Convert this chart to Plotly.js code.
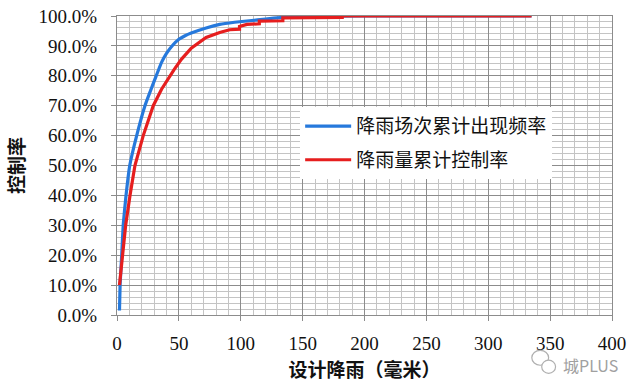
<!DOCTYPE html>
<html>
<head>
<meta charset="utf-8">
<script src="https://cdn.plot.ly/plotly-3.0.1.min.js"></script>
<style>html,body{margin:0;padding:0;background:#fff;}#chart{width:640px;height:388px;}</style>
</head>
<body>
<div id="chart"></div>
<script>
// 降雨场次累计出现频率 (blue)
const blueName = "降雨场次累计出现频率";
const blueX = [2, 2.5, 3.8, 5, 7.3, 10.3, 15.9, 22.6, 31.7, 36, 40, 45, 50, 55, 60, 72, 83, 95, 107, 120, 140, 200, 335];
const blueY = [1.5, 10, 20, 30, 40, 50, 60, 70, 80, 84.5, 87.5, 90.2, 92.2, 93.4, 94.3, 96, 97.2, 97.9, 98.4, 99, 99.7, 100, 100];
// 降雨量累计控制率 (red)
const redName = "降雨量累计控制率";
const redX = [2, 4.3, 7, 10.5, 14.5, 21.2, 29.3, 36, 42.8, 46, 52, 60, 72, 83, 91, 99, 99, 105, 115, 115, 134, 134, 182, 182, 335];
const redY = [10, 20, 30, 40, 50, 60, 70, 75.5, 80, 82, 85.5, 89.2, 92.8, 94.5, 95.4, 95.6, 96.5, 97.2, 97.4, 98.3, 98.4, 99.4, 99.5, 100, 100];

const xTitle = "设计降雨（毫米）";
const yTitle = "控制率";
const watermark = "城PLUS";

const traces = [
  {x: blueX, y: blueY, name: blueName, type: "scatter", mode: "lines",
   line: {color: "rgb(38,121,220)", width: 3.2, shape: "spline", smoothing: 0.4}, legendgroup: "a"},
  {x: redX, y: redY, name: redName, type: "scatter", mode: "lines",
   line: {color: "rgb(230,30,30)", width: 3.2}, legendgroup: "b"}
];

const tickFont = {family: "Liberation Serif, Times New Roman, serif", size: 19, color: "#111"};
const titleFont = {family: "Noto Sans CJK SC", size: 19, color: "#111", weight: "bold"};
const wmColor = "#b0b0b0";
const layout = {
  width: 640, height: 388,
  margin: {l: 117, r: 28, t: 16, b: 73},
  paper_bgcolor: "#fff", plot_bgcolor: "#fff",
  showlegend: true,
  legend: {
    x: 0.37, y: 0.695, xanchor: "left", yanchor: "top",
    bgcolor: "#fff", borderwidth: 0, itemwidth: 46,
    font: {family: "Noto Sans CJK SC", size: 19, color: "#111"},
    traceorder: "grouped", tracegroupgap: 6
  },
  xaxis: {
    range: [0, 400], dtick: 50, tick0: 0,
    showgrid: true, gridcolor: "#8c8c8c", gridwidth: 1,
    minor: {dtick: 10, showgrid: true, gridcolor: "#c4c4c4", gridwidth: 1},
    ticks: "outside", ticklen: 5, tickcolor: "#8c8c8c", ticklabelstandoff: 6,
    showline: true, linecolor: "#8c8c8c", mirror: true,
    zeroline: false, tickfont: tickFont,
    title: {text: xTitle, font: titleFont, standoff: 10}
  },
  yaxis: {
    range: [0, 100], dtick: 10, tick0: 0,
    tickformat: ".1f", ticksuffix: "%",
    showgrid: true, gridcolor: "#8c8c8c", gridwidth: 1,
    minor: {dtick: 2, showgrid: true, gridcolor: "#c4c4c4", gridwidth: 1},
    ticks: "outside", ticklen: 5, tickcolor: "#8c8c8c", ticklabelstandoff: 10,
    showline: true, linecolor: "#8c8c8c", mirror: true,
    zeroline: false, tickfont: tickFont,
    title: {text: yTitle, font: titleFont, standoff: 8}
  },
  shapes: [
    {type: "circle", xref: "paper", yref: "paper", x0: 0.838, x1: 0.872, y0: -0.168, y1: -0.118,
     line: {color: wmColor, width: 1.2}, fillcolor: "rgba(0,0,0,0)"},
    {type: "circle", xref: "paper", yref: "paper", x0: 0.858, x1: 0.886, y0: -0.195, y1: -0.151,
     line: {color: wmColor, width: 1.2}, fillcolor: "#fff"}
  ],
  annotations: [
    {text: watermark, xref: "paper", yref: "paper", x: 1.016, y: -0.168, xanchor: "right", yanchor: "middle",
     showarrow: false, font: {family: "Noto Sans CJK SC", size: 16, color: "#a0a0a0"}}
  ]
};

Plotly.newPlot("chart", traces, layout, {displayModeBar: false, staticPlot: true});
</script>
</body>
</html>
